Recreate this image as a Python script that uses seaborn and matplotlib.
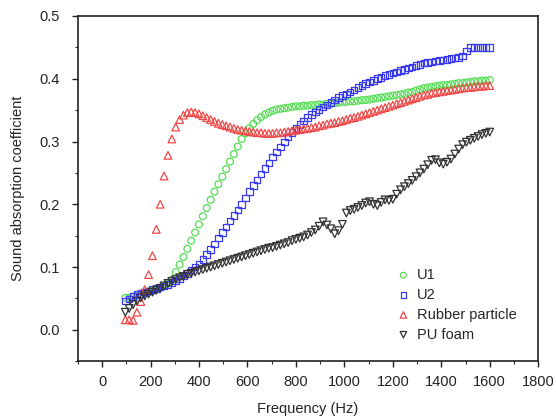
import matplotlib
matplotlib.use('Agg')
import matplotlib.pyplot as plt
from matplotlib.ticker import MultipleLocator, FormatStrFormatter
import seaborn as sns

FREQ = [96, 112, 128, 144, 160, 176, 192, 208, 224, 240,
        256, 272, 288, 304, 320, 336, 352, 368, 384, 400,
        416, 432, 448, 464, 480, 496, 512, 528, 544, 560,
        576, 592, 608, 624, 640, 656, 672, 688, 704, 720,
        736, 752, 768, 784, 800, 816, 832, 848, 864, 880,
        896, 912, 928, 944, 960, 976, 992, 1008, 1024, 1040,
        1056, 1072, 1088, 1104, 1120, 1136, 1152, 1168, 1184, 1200,
        1216, 1232, 1248, 1264, 1280, 1296, 1312, 1328, 1344, 1360,
        1376, 1392, 1408, 1424, 1440, 1456, 1472, 1488, 1504, 1520,
        1536, 1552, 1568, 1584, 1600]

U1 = [.051, .051, .053, .055, .057, .059, .061, .063, .065, .067,
      .070, .074, .080, .092, .104, .116, .129, .142, .155, .168,
      .181, .194, .207, .220, .232, .244, .256, .268, .280, .292,
      .304, .313, .321, .328, .334, .339, .343, .346, .349, .351,
      .352, .353, .354, .355, .356, .356, .357, .357, .358, .358,
      .359, .359, .360, .360, .361, .362, .363, .363, .364, .364,
      .365, .366, .366, .367, .368, .369, .370, .371, .372, .373,
      .374, .375, .376, .378, .379, .381, .383, .385, .386, .387,
      .388, .389, .390, .390, .391, .392, .393, .393, .394, .395,
      .396, .396, .397, .397, .398]

U2 = [.046, .049, .053, .056, .058, .060, .062, .064, .066, .068,
      .070, .072, .075, .078, .082, .086, .090, .095, .100, .105,
      .112, .120, .128, .137, .146, .155, .164, .173, .182, .191,
      .200, .210, .220, .230, .239, .248, .257, .266, .275, .283,
      .291, .299, .307, .314, .321, .327, .333, .338, .343, .347,
      .351, .355, .358, .362, .366, .370, .373, .376, .379, .382,
      .386, .389, .392, .395, .397, .400, .402, .405, .407, .409,
      .411, .413, .415, .417, .419, .421, .423, .425, .426, .427,
      .428, .429, .430, .431, .432, .433, .434, .436, .444, .450,
      .450, .450, .450, .450, .450]

RUBBER = [.016, .016, .015, .028, .045, .064, .088, .118, .160, .200,
          .245, .278, .304, .323, .335, .342, .346, .347, .346, .344,
          .341, .338, .335, .332, .329, .327, .325, .323, .321, .319,
          .318, .317, .316, .315, .314, .314, .313, .313, .313, .314,
          .314, .315, .316, .317, .318, .319, .320, .321, .322, .323,
          .325, .326, .328, .329, .330, .332, .333, .335, .337, .338,
          .340, .342, .344, .346, .348, .350, .352, .354, .356, .358,
          .360, .362, .364, .366, .368, .370, .372, .374, .375, .377,
          .378, .379, .380, .381, .382, .383, .384, .385, .386, .386,
          .387, .388, .388, .389, .389]

PU = [.028, .034, .040, .046, .051, .054, .057, .060, .063, .066,
      .070, .074, .077, .080, .083, .085, .088, .090, .092, .094,
      .096, .098, .100, .102, .104, .106, .108, .110, .112, .114,
      .116, .118, .120, .122, .124, .126, .128, .130, .131, .133,
      .135, .137, .139, .142, .144, .146, .148, .151, .155, .159,
      .165, .172, .167, .161, .153, .158, .168, .186, .190, .192,
      .195, .198, .202, .204, .200, .198, .203, .207, .206, .208,
      .216, .223, .228, .233, .238, .244, .250, .256, .263, .270,
      .271, .266, .264, .267, .272, .280, .288, .295, .299, .302,
      .305, .308, .311, .313, .315]

SERIES = [('U1', U1, 'o', '#55dd55', 24),
          ('U2', U2, 's', '#3a3af0', 22),
          ('Rubber particle', RUBBER, '^', '#f04848', 30),
          ('PU foam', PU, 'v', '#333333', 30)]

sns.set_theme(style='ticks')
plt.rcParams['font.family'] = ['Liberation Sans', 'DejaVu Sans']

fig = plt.figure(figsize=(5.56, 4.2), dpi=100)
ax = fig.add_axes([0.140, 0.140, 0.828, 0.822])

for name, vals, mk, col, sz in SERIES:
    sns.scatterplot(x=FREQ, y=vals, ax=ax, marker=mk, s=sz, label=name)
    pc = ax.collections[-1]
    pc.set_facecolor('none')
    pc.set_edgecolor(col)
    pc.set_linewidth(0.9)

ax.set_xlim(-100, 1800)
ax.set_ylim(-0.05, 0.5)
ax.xaxis.set_major_locator(MultipleLocator(200))
ax.xaxis.set_minor_locator(MultipleLocator(100))
ax.yaxis.set_major_locator(MultipleLocator(0.1))
ax.yaxis.set_minor_locator(MultipleLocator(0.05))
ax.yaxis.set_major_formatter(FormatStrFormatter('%.1f'))
ax.tick_params(which='major', direction='out', length=4, width=1, labelsize=10.5, colors='#222222')
ax.tick_params(which='minor', direction='out', length=2.5, width=0.8)
ax.tick_params(axis='y', which='major', pad=9)
ax.tick_params(axis='x', which='major', pad=6)
for sp in ax.spines.values():
    sp.set_linewidth(1.2)
    sp.set_color('#222222')

ax.set_xlabel('Frequency (Hz)', fontsize=10.5, color='#222222', labelpad=9)
ax.set_ylabel('Sound absorption coefficient', fontsize=10.5, color='#222222', labelpad=10)

ax.legend(loc='lower right', bbox_to_anchor=(0.965, 0.04), frameon=False,
          fontsize=10.5, handletextpad=0.3, labelspacing=0.4, borderaxespad=0,
          handlelength=1.2, markerscale=0.85)

fig.savefig('out.png', dpi=100)
